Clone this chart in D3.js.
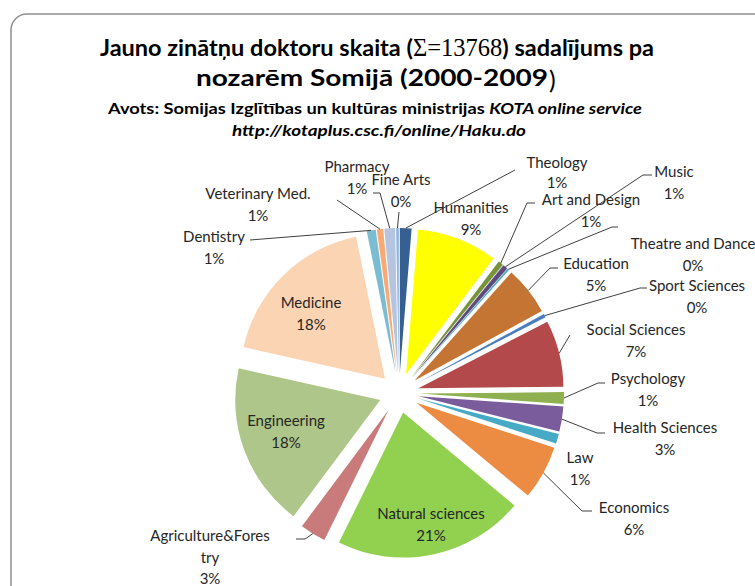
<!DOCTYPE html>
<html><head><meta charset="utf-8">
<script src="https://cdn.jsdelivr.net/npm/d3@7"></script>
<style>body{margin:0;background:#fff}svg{display:block}</style>
</head><body>
<script>
// ---- data ----
const categories = ["Theology","Humanities","Art and Design","Music","Theatre and Dance","Education","Sport Sciences","Social Sciences","Psychology","Health Sciences","Law","Economics","Natural sciences","Agriculture&Forestry","Engineering","Medicine","Dentistry","Veterinary Med.","Pharmacy","Fine Arts"];
const values = [179,1238,80,75,28,745,55,1019,179,385,151,831,2924,399,2520,2520,138,96,165,41];
const colors = ["#376092","#FFFF00","#77933C","#604A7B","#4BACC6","#C47534","#4A7EBB","#B3494A","#8FB050","#7A5C9C","#46AAC4","#EC8C42","#92D050","#C97B7B","#AEC689","#FBD4B4","#7CBCD0","#FAA874","#B6C5DF","#8EB4E3"];
const titleLines = ["Jauno zinātņu doktoru skaita (", "Σ=13768", ") sadalījums pa"];

// ---- layout (label positions: name-line centre, leader start points) ----
const labelLayout = {
  "Theology":{x:557,y:162,lead:[[515,170]]},
  "Humanities":{x:471,y:207},
  "Art and Design":{x:591,y:199,lead:[[535,203],[527,203]]},
  "Music":{x:674,y:171,lead:[[652,175],[643,175]]},
  "Theatre and Dance":{x:693,y:243,lead:[[618,227],[612,227]]},
  "Education":{x:596,y:263,lead:[[558,268],[550,268]]},
  "Sport Sciences":{x:697,y:285,lead:[[647,288],[640,288]]},
  "Social Sciences":{x:636,y:329,lead:[[570,335]]},
  "Psychology":{x:648,y:378,lead:[[605,383],[598,383]]},
  "Health Sciences":{x:665,y:427,lead:[[605,433],[597,433]]},
  "Law":{x:580,y:457},
  "Economics":{x:634,y:507,lead:[[592,511],[582,511]]},
  "Natural sciences":{x:431,y:513},
  "Agriculture&Forestry":{x:210,y:535,wrap:17,lead:[[296,539],[305,539]]},
  "Engineering":{x:286,y:420},
  "Medicine":{x:311,y:302},
  "Dentistry":{x:214,y:236,lead:[[250,240]]},
  "Veterinary Med.":{x:258,y:193,lead:[[337,200]]},
  "Pharmacy":{x:357,y:166,lead:[[373,193],[380,193]]},
  "Fine Arts":{x:401,y:179,lead:[[399,212]]}
};

const W=755,H=586, cx=399, cy=393, R=145, explode=20, lineH=21.5;
const svg=d3.select("body").append("svg").attr("width",W).attr("height",H);

svg.append("rect").attr("x",11).attr("y",14).attr("width",820).attr("height",640)
  .attr("rx",16).attr("fill","none").attr("stroke","#8f8f8f").attr("stroke-width",1.5);

// titles
const t1=svg.append("text").attr("x",377).attr("y",56).attr("text-anchor","middle")
  .attr("font-family","Lato").attr("font-weight","bold").attr("font-size",23.5).attr("fill","#000");
t1.append("tspan").text(titleLines[0]);
t1.append("tspan").attr("font-family","Liberation Serif").attr("font-weight","normal").attr("font-size",24.5).text(titleLines[1]);
t1.append("tspan").text(titleLines[2]);
svg.append("text").attr("x",196).attr("y",86)
  .attr("font-family","Lato").attr("font-weight","bold").attr("font-size",23.5).attr("fill","#000")
  .attr("textLength",352).attr("lengthAdjust","spacingAndGlyphs")
  .text("nozarēm Somijā (2000-2009");
svg.append("text").attr("x",549).attr("y",89)
  .attr("font-family","Lato").attr("font-size",25).attr("fill","#000").text(")");
const t3=svg.append("text").attr("x",375).attr("y",114).attr("text-anchor","middle")
  .attr("font-family","Lato").attr("font-weight","bold").attr("font-size",15).attr("fill","#000")
  .attr("textLength",534).attr("lengthAdjust","spacingAndGlyphs");
t3.append("tspan").text("Avots: Somijas Izglītības un kultūras ministrijas ");
t3.append("tspan").attr("font-style","italic").text("KOTA online service");
svg.append("text").attr("x",379).attr("y",136).attr("text-anchor","middle")
  .attr("font-family","Lato").attr("font-weight","bold").attr("font-style","italic").attr("font-size",15)
  .attr("textLength",294).attr("lengthAdjust","spacingAndGlyphs")
  .text("http://kotaplus.csc.fi/online/Haku.do");

// pie
const data=categories.map((c,i)=>({name:c,value:values[i],color:colors[i]}));
const total=d3.sum(values);
const pie=d3.pie().value(d=>d.value).sort(null).startAngle(0).endAngle(2*Math.PI);
const arcs=pie(data);
const arc=d3.arc().innerRadius(0).outerRadius(R);
const off=a=>{const m=(a.startAngle+a.endAngle)/2;return [Math.sin(m)*explode,-Math.cos(m)*explode];};

const g=svg.append("g").attr("transform",`translate(${cx},${cy})`);
g.selectAll("path").data(arcs).join("path")
  .attr("transform",d=>{const o=off(d);return `translate(${o[0]},${o[1]})`;})
  .attr("d",arc).attr("fill",d=>d.data.color);

// labels + leaders
const pct=v=>Math.round(v/total*100)+"%";
const lg=svg.append("g");
arcs.forEach(a=>{
  const L=labelLayout[a.data.name]; if(!L) return;
  const m=(a.startAngle+a.endAngle)/2, o=off(a);
  const ax=cx+o[0]+Math.sin(m)*R, ay=cy+o[1]-Math.cos(m)*R;
  if(L.lead){
    const pts=L.lead.concat([[ax,ay]]);
    lg.append("path").attr("d",d3.line()(pts)).attr("fill","none").attr("stroke","#404040").attr("stroke-width",1);
  }
  let lines=[a.data.name];
  if(L.wrap){lines=[a.data.name.slice(0,L.wrap),a.data.name.slice(L.wrap)];}
  lines.push(pct(a.data.value));
  lines.forEach((s,i)=>{
    lg.append("text").attr("x",L.x).attr("y",L.y+i*(a.data.name==="Theology"?20:lineH)).attr("text-anchor","middle")
      .attr("dominant-baseline","central").attr("font-family","Lato").attr("font-size",15)
      .attr("fill","#262626").text(s);
  });
});
</script>
</body></html>
